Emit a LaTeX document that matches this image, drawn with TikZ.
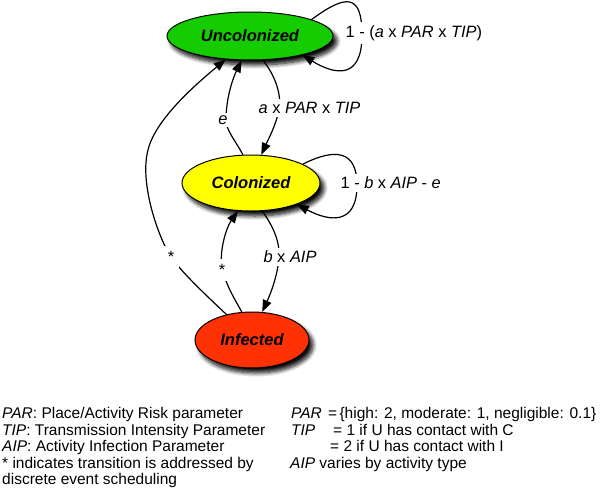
\documentclass[tikz,border=0pt]{standalone}
\usepackage{fontspec}
\setmainfont{Liberation Sans}
\usetikzlibrary{shapes.geometric,arrows.meta,shadows.blur}
\definecolor{ucol}{RGB}{20,204,0}
\definecolor{ccol}{RGB}{255,255,0}
\definecolor{icol}{RGB}{255,50,5}
\begin{document}
\begin{tikzpicture}[x=1pt,y=-1pt,
  state/.style={ellipse, draw=black, line width=1pt, inner sep=0pt,
    font=\fontsize{16.5}{20}\selectfont\bfseries\itshape,
    blur shadow={shadow xshift=4pt,shadow yshift=-5pt,shadow blur steps=8,shadow blur radius=4pt,shadow opacity=95}},
  conn/.style={line width=1.2pt, -{Triangle[length=12pt,width=9pt]}},
  lab/.style={fill=white, inner sep=3pt, font=\fontsize{16.4}{19}\selectfont},
  starlab/.style={fill=white, inner sep=5pt, font=\fontsize{16.4}{19}\selectfont},
  legend/.style={inner sep=0pt, font=\fontsize{15.5}{17}\selectfont, anchor=base west}]
\useasboundingbox (0,0) rectangle (600,498);

\node[state, fill=ucol, minimum width=166pt, minimum height=48pt] (U) at (250,36) {Uncolonized};
\node[state, fill=ccol, minimum width=138pt, minimum height=56pt] (C) at (251,183) {Colonized};
\node[state, fill=icol, minimum width=114pt, minimum height=56pt] (I) at (252,340) {Infected};

% self loops
\draw[conn] (U.15) .. controls (345,-5) and (362,-8) .. (362,35)
  node[lab, anchor=west, xshift=-20pt, yshift=2pt] {1 - (\textit{a} x \textit{PAR} x \textit{TIP})}
  .. controls (362,80) and (335,75) .. (U.-20);
\draw[conn] (C.20) .. controls (335,148) and (357,150) .. (357,185)
  node[lab, anchor=west, xshift=-20pt, yshift=2pt] {1 - \textit{b} x \textit{AIP} - \textit{e}}
  .. controls (357,225) and (330,222) .. (C.-25);

% U -> C
\draw[conn] (U.-62) .. controls (275,75) and (282,95) .. (279,110)
  node[lab, xshift=30.5pt, yshift=2pt] {\textit{a} x \textit{PAR} x \textit{TIP}}
  .. controls (276,125) and (268,140) .. (C.70);
% C -> U
\draw[conn] (C.106) .. controls (235,140) and (226,130) .. (226,120)
  node[lab, xshift=-3pt] {\textit{e}}
  .. controls (226,100) and (232,80) .. (U.-109);
% C -> I
\draw[conn] (C.-68) .. controls (272,225) and (280,240) .. (279,257)
  node[lab, xshift=11pt] {\textit{b} x \textit{AIP}}
  .. controls (278,275) and (270,295) .. (I.70);
% I -> U
\draw[conn] (I.135) .. controls (195,285) and (175,265) .. (168,252)
  node[starlab, xshift=3pt, yshift=-5pt] {*}
  .. controls (155,228) and (140,180) .. (148,150)
  .. controls (155,120) and (195,85) .. (U.224);
% I -> C
\draw[conn] (I.110) .. controls (234,298) and (226,285) .. (222,268)
  node[starlab, yshift=-2pt] {*}
  .. controls (219,252) and (226,228) .. (C.245);

% legend
\node[legend] (l1) at (2,418) {\textit{PAR}: Place/Activity Risk parameter};
\node[legend] (l2) at (2,435) {\textit{TIP}: Transmission Intensity Parameter};
\node[legend] (l3) at (2,451.5) {\textit{AIP}: Activity Infection Parameter};
\node[legend] (l4) at (2,468) {* indicates transition is addressed by};
\node[legend] (l5) at (2,484.5) {discrete event scheduling};

\node[legend] (r1a) at (291,418) {\textit{PAR}};
\node[legend] (r1b) at (328,418) {=\hspace{0.15em}\{high: 2, moderate: 1, negligible: 0.1\}};
\node[legend] (r2a) at (291,435) {\textit{TIP}};
\node[legend] (r2b) at (333,435) {= 1 if U has contact with C};
\node[legend] (r3) at (330,451.5) {= 2 if U has contact with I};
\node[legend] (r4) at (290,468) {\textit{AIP} varies by activity type};
\end{tikzpicture}
\end{document}
